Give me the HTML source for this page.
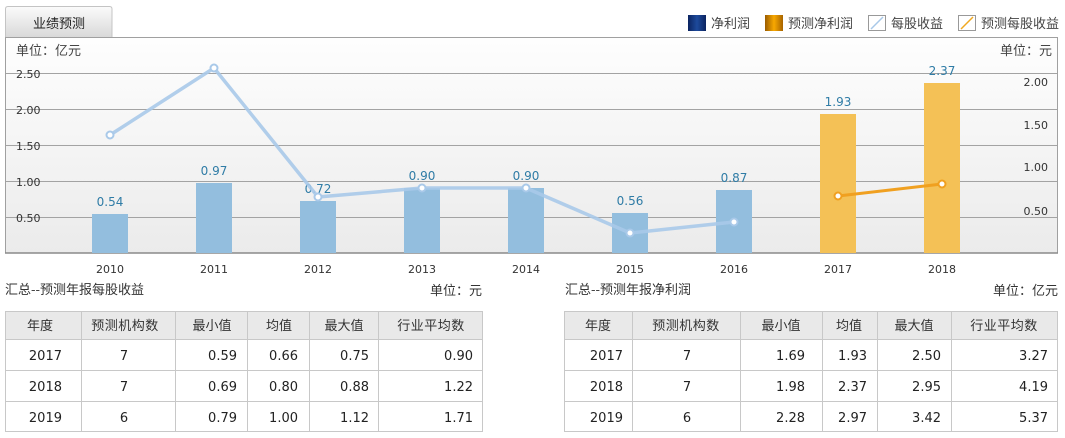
<!DOCTYPE html>
<html><head><meta charset="utf-8">
<style>
html,body{margin:0;padding:0;background:#fff;}
body{width:1065px;height:438px;overflow:hidden;}
svg{display:block;}
.cn{font-family:"Noto Sans CJK SC","WenQuanYi Zen Hei",sans-serif;}
.num{font-family:"DejaVu Sans","Liberation Sans",sans-serif;}
</style></head>
<body>
<svg width="1065" height="438" viewBox="0 0 1065 438" xmlns="http://www.w3.org/2000/svg">
<defs>
  <linearGradient id="bg" x1="0" y1="0" x2="0" y2="1">
    <stop offset="0" stop-color="#fefefe"/>
    <stop offset="1" stop-color="#ebebeb"/>
  </linearGradient>
  <linearGradient id="tab" x1="0" y1="0" x2="0" y2="1">
    <stop offset="0" stop-color="#fbfbfb"/>
    <stop offset="1" stop-color="#d9d9d9"/>
  </linearGradient>
  <linearGradient id="lgBlue" x1="0" y1="0" x2="1" y2="0">
    <stop offset="0" stop-color="#0b2460"/>
    <stop offset="0.5" stop-color="#1d4a9c"/>
    <stop offset="1" stop-color="#0b2460"/>
  </linearGradient>
  <linearGradient id="lgOrange" x1="0" y1="0" x2="1" y2="0">
    <stop offset="0" stop-color="#9a5c00"/>
    <stop offset="0.5" stop-color="#f8a800"/>
    <stop offset="1" stop-color="#a86400"/>
  </linearGradient>
</defs>

<!-- tab -->
<path d="M5.5 37 L5.5 9 Q5.5 6.5 8 6.5 L109.5 6.5 Q112 6.5 112 9 L112 37" fill="url(#tab)" stroke="#c4c4c4"/>
<text x="59" y="28" text-anchor="middle" class="cn" font-size="13" fill="#222">业绩预测</text>

<!-- legend -->
<rect x="688" y="15" width="18" height="16" fill="url(#lgBlue)"/>
<text x="711" y="28" class="cn" font-size="13" fill="#444">净利润</text>
<rect x="765" y="15" width="18" height="16" fill="url(#lgOrange)"/>
<text x="788" y="28" class="cn" font-size="13" fill="#444">预测净利润</text>
<rect x="868.5" y="15.5" width="17" height="15" fill="#fff" stroke="#999"/>
<line x1="871" y1="29" x2="883" y2="17" stroke="#a8c8e8" stroke-width="1.5"/>
<text x="891" y="28" class="cn" font-size="13" fill="#444">每股收益</text>
<rect x="958.5" y="15.5" width="17" height="15" fill="#fff" stroke="#999"/>
<line x1="961" y1="29" x2="973" y2="17" stroke="#f0a820" stroke-width="1.5"/>
<text x="981" y="28" class="cn" font-size="13" fill="#444">预测每股收益</text>

<!-- chart frame -->
<rect x="5.5" y="37.5" width="1052" height="215.5" fill="url(#bg)" stroke="#a0a0a0"/>
<text x="16" y="55" class="cn" font-size="13" fill="#444">单位：亿元</text>
<text x="1052" y="55" text-anchor="end" class="cn" font-size="13" fill="#444">单位：元</text>

<!-- gridlines -->
<g stroke="#a3a3a3" stroke-width="1">
  <line x1="6" y1="73.5" x2="1057" y2="73.5"/>
  <line x1="6" y1="109.5" x2="1057" y2="109.5"/>
  <line x1="6" y1="145.5" x2="1057" y2="145.5"/>
  <line x1="6" y1="181.5" x2="1057" y2="181.5"/>
  <line x1="6" y1="217.5" x2="1057" y2="217.5"/>
</g>
<line x1="5" y1="253" x2="1058" y2="253" stroke="#8a8a8a" stroke-width="1.5"/>

<!-- left axis labels -->
<g class="num" font-size="11" fill="#333">
  <text x="16" y="78">2.50</text>
  <text x="16" y="114">2.00</text>
  <text x="16" y="150">1.50</text>
  <text x="16" y="186">1.00</text>
  <text x="16" y="222">0.50</text>
</g>
<!-- right axis labels -->
<g class="num" font-size="11" fill="#333" text-anchor="end">
  <text x="1048" y="86">2.00</text>
  <text x="1048" y="129">1.50</text>
  <text x="1048" y="171">1.00</text>
  <text x="1048" y="215">0.50</text>
</g>

<!-- bars -->
<g fill="#93bede">
  <rect x="92" y="214" width="36" height="39"/>
  <rect x="196" y="183" width="36" height="70"/>
  <rect x="300" y="201" width="36" height="52"/>
  <rect x="404" y="188" width="36" height="65"/>
  <rect x="508" y="188" width="36" height="65"/>
  <rect x="612" y="213" width="36" height="40"/>
  <rect x="716" y="190" width="36" height="63"/>
</g>
<g fill="#f4c156">
  <rect x="820" y="114" width="36" height="139"/>
  <rect x="924" y="83" width="36" height="170"/>
</g>

<!-- value labels -->
<g class="num" font-size="12" fill="#2f7ca6" text-anchor="middle">
  <text x="110" y="206">0.54</text>
  <text x="214" y="175">0.97</text>
  <text x="318" y="193">0.72</text>
  <text x="422" y="180">0.90</text>
  <text x="526" y="180">0.90</text>
  <text x="630" y="205">0.56</text>
  <text x="734" y="182">0.87</text>
  <text x="838" y="106">1.93</text>
  <text x="942" y="75">2.37</text>
</g>

<!-- EPS line -->
<polyline points="110,135 214,68 318,197 422,188 526,188 630,233 734,222" fill="none" stroke="#a9c9e9" stroke-width="3.5" stroke-linejoin="round" opacity="0.9"/>
<g fill="#fff" stroke="#a9c9e9" stroke-width="2">
  <circle cx="110" cy="135" r="3.5"/>
  <circle cx="214" cy="68" r="3.5"/>
  <circle cx="318" cy="197" r="3.5"/>
  <circle cx="422" cy="188" r="3.5"/>
  <circle cx="526" cy="188" r="3.5"/>
  <circle cx="630" cy="233" r="3.5"/>
  <circle cx="734" cy="222" r="3.5"/>
</g>
<polyline points="838,196 942,184" fill="none" stroke="#f0a020" stroke-width="3"/>
<g fill="#fff" stroke="#f0a020" stroke-width="2">
  <circle cx="838" cy="196" r="3.5"/>
  <circle cx="942" cy="184" r="3.5"/>
</g>

<!-- x labels -->
<g class="num" font-size="11" fill="#333" text-anchor="middle">
  <text x="110" y="273">2010</text>
  <text x="214" y="273">2011</text>
  <text x="318" y="273">2012</text>
  <text x="422" y="273">2013</text>
  <text x="526" y="273">2014</text>
  <text x="630" y="273">2015</text>
  <text x="734" y="273">2016</text>
  <text x="838" y="273">2017</text>
  <text x="942" y="273">2018</text>
</g>

<!-- table titles -->
<text x="5" y="294" class="cn" font-size="13" fill="#333">汇总--预测年报每股收益</text>
<text x="482" y="295" text-anchor="end" class="cn" font-size="13" fill="#333">单位：元</text>
<text x="565" y="294" class="cn" font-size="13" fill="#333">汇总--预测年报净利润</text>
<text x="1058" y="295" text-anchor="end" class="cn" font-size="13" fill="#333">单位：亿元</text>

<!-- table 1 -->
<rect x="5.5" y="311.5" width="477" height="28" fill="#e9e9e9"/>
<rect x="5.5" y="311.5" width="477" height="120" fill="none" stroke="#c8c8c8"/>
<g stroke="#c8c8c8">
  <line x1="5" y1="339.5" x2="483" y2="339.5"/>
  <line x1="5" y1="370.5" x2="483" y2="370.5"/>
  <line x1="5" y1="401.5" x2="483" y2="401.5"/>
  <line x1="81.5" y1="311" x2="81.5" y2="432"/>
  <line x1="175.5" y1="311" x2="175.5" y2="432"/>
  <line x1="247.5" y1="311" x2="247.5" y2="432"/>
  <line x1="309.5" y1="311" x2="309.5" y2="432"/>
  <line x1="378.5" y1="311" x2="378.5" y2="432"/>
</g>
<g class="cn" font-size="13" fill="#333" text-anchor="middle">
  <text x="40" y="330">年度</text>
  <text x="125" y="330" letter-spacing="0.5">预测机构数</text>
  <text x="212" y="330">最小值</text>
  <text x="279" y="330">均值</text>
  <text x="344" y="330">最大值</text>
  <text x="431" y="330" letter-spacing="0.5">行业平均数</text>
</g>
<g class="num" font-size="13" fill="#222">
  <text x="62" y="360" text-anchor="end">2017</text>
  <text x="62" y="391" text-anchor="end">2018</text>
  <text x="62" y="422" text-anchor="end">2019</text>
  <text x="124" y="360" text-anchor="middle">7</text>
  <text x="124" y="391" text-anchor="middle">7</text>
  <text x="124" y="422" text-anchor="middle">6</text>
  <text x="237" y="360" text-anchor="end">0.59</text>
  <text x="237" y="391" text-anchor="end">0.69</text>
  <text x="237" y="422" text-anchor="end">0.79</text>
  <text x="298" y="360" text-anchor="end">0.66</text>
  <text x="298" y="391" text-anchor="end">0.80</text>
  <text x="298" y="422" text-anchor="end">1.00</text>
  <text x="369" y="360" text-anchor="end">0.75</text>
  <text x="369" y="391" text-anchor="end">0.88</text>
  <text x="369" y="422" text-anchor="end">1.12</text>
  <text x="473" y="360" text-anchor="end">0.90</text>
  <text x="473" y="391" text-anchor="end">1.22</text>
  <text x="473" y="422" text-anchor="end">1.71</text>
</g>

<!-- table 2 -->
<rect x="564.5" y="311.5" width="493" height="28" fill="#e9e9e9"/>
<rect x="564.5" y="311.5" width="493" height="120" fill="none" stroke="#c8c8c8"/>
<g stroke="#c8c8c8">
  <line x1="564" y1="339.5" x2="1058" y2="339.5"/>
  <line x1="564" y1="370.5" x2="1058" y2="370.5"/>
  <line x1="564" y1="401.5" x2="1058" y2="401.5"/>
  <line x1="632.5" y1="311" x2="632.5" y2="432"/>
  <line x1="740.5" y1="311" x2="740.5" y2="432"/>
  <line x1="822.5" y1="311" x2="822.5" y2="432"/>
  <line x1="877.5" y1="311" x2="877.5" y2="432"/>
  <line x1="951.5" y1="311" x2="951.5" y2="432"/>
</g>
<g class="cn" font-size="13" fill="#333" text-anchor="middle">
  <text x="598" y="330">年度</text>
  <text x="686" y="330" letter-spacing="0.5">预测机构数</text>
  <text x="781" y="330">最小值</text>
  <text x="849" y="330">均值</text>
  <text x="914" y="330">最大值</text>
  <text x="1004" y="330" letter-spacing="0.5">行业平均数</text>
</g>
<g class="num" font-size="13" fill="#222">
  <text x="623" y="360" text-anchor="end">2017</text>
  <text x="623" y="391" text-anchor="end">2018</text>
  <text x="623" y="422" text-anchor="end">2019</text>
  <text x="687" y="360" text-anchor="middle">7</text>
  <text x="687" y="391" text-anchor="middle">7</text>
  <text x="687" y="422" text-anchor="middle">6</text>
  <text x="805" y="360" text-anchor="end">1.69</text>
  <text x="805" y="391" text-anchor="end">1.98</text>
  <text x="805" y="422" text-anchor="end">2.28</text>
  <text x="867" y="360" text-anchor="end">1.93</text>
  <text x="867" y="391" text-anchor="end">2.37</text>
  <text x="867" y="422" text-anchor="end">2.97</text>
  <text x="941" y="360" text-anchor="end">2.50</text>
  <text x="941" y="391" text-anchor="end">2.95</text>
  <text x="941" y="422" text-anchor="end">3.42</text>
  <text x="1048" y="360" text-anchor="end">3.27</text>
  <text x="1048" y="391" text-anchor="end">4.19</text>
  <text x="1048" y="422" text-anchor="end">5.37</text>
</g>
</svg>
</body></html>
